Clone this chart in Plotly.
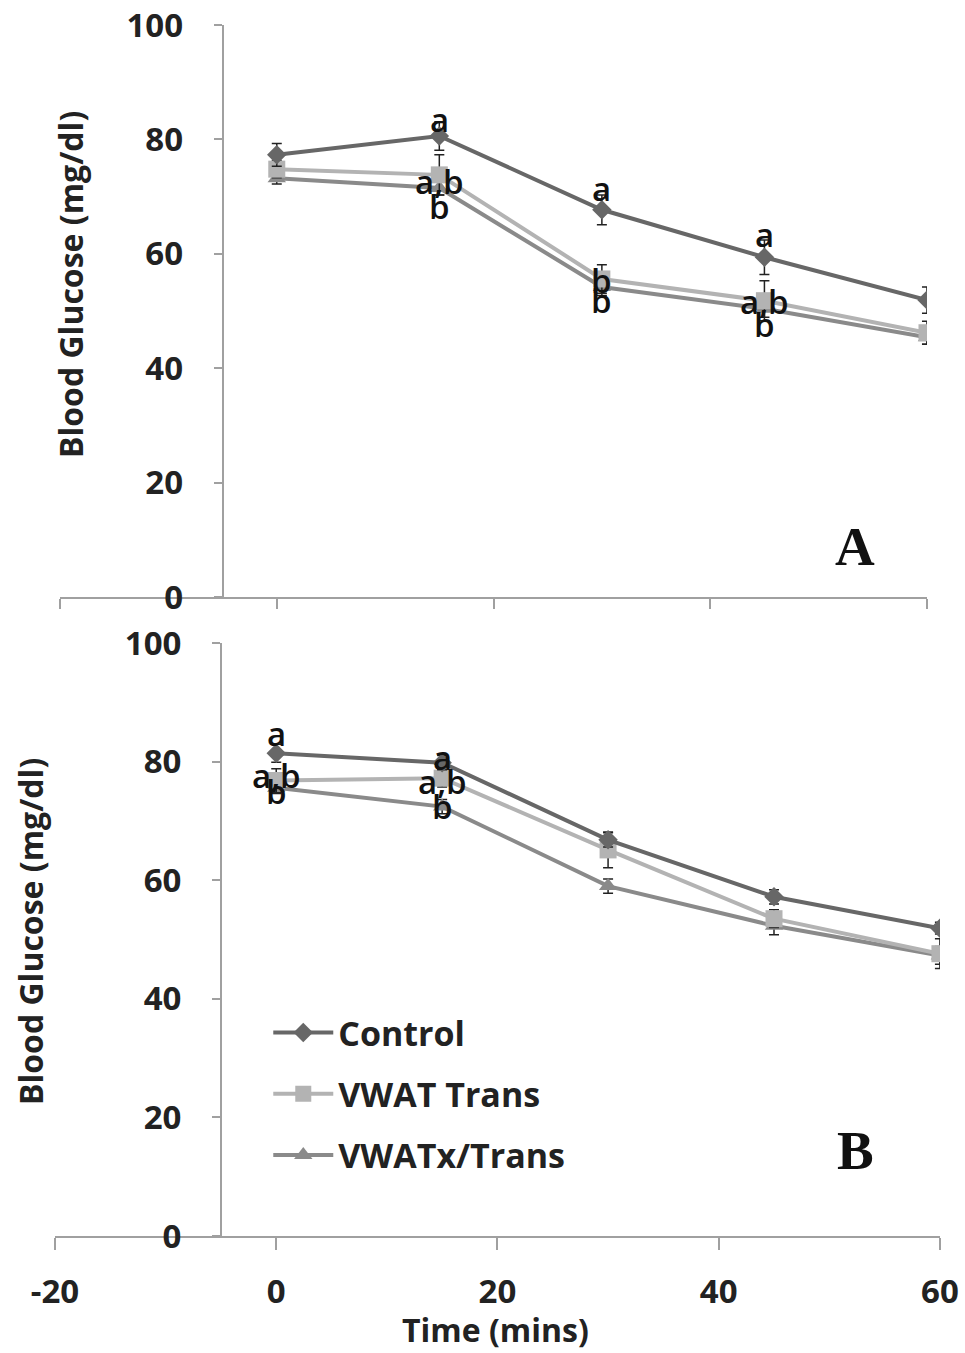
import plotly.graph_objects as go

time = [0, 15, 30, 45, 60]
series_names = ["Control", "VWAT Trans", "VWATx/Trans"]

# Panel A
a_control = [77.3, 80.6, 67.7, 59.4, 51.9]
a_vwat = [74.8, 73.8, 55.6, 51.8, 46.2]
a_vwatx = [73.2, 71.5, 54.2, 50.4, 45.4]
a_control_err = [2.0, 2.5, 2.6, 3.0, 2.3]
a_vwat_err = [1.5, 3.5, 2.5, 3.5, 2.0]
a_vwatx_err = [1.0, 1.2, 1.5, 1.5, 1.2]

# Panel B
b_control = [81.4, 79.8, 66.8, 57.2, 51.9]
b_vwat = [76.8, 77.2, 65.1, 53.5, 47.6]
b_vwatx = [75.6, 72.4, 59.0, 52.3, 47.3]
b_control_err = [1.5, 1.2, 1.2, 1.2, 1.0]
b_vwat_err = [2.0, 1.5, 3.0, 1.5, 2.5]
b_vwatx_err = [1.0, 1.2, 1.2, 1.5, 1.5]

# significance letters: (x, y, text)
letters_a = [
    (15, 83.4, "a"), (15, 72.7, "a,b"), (15, 68.2, "b"),
    (30, 71.5, "a"), (30, 55.4, "b"), (30, 51.9, "b"),
    (45, 63.3, "a"), (45, 51.6, "a,b"), (45, 47.6, "b"),
]
letters_b = [
    (0, 84.8, "a"), (0, 77.7, "a,b"), (0, 74.9, "b"),
    (15, 80.6, "a"), (15, 76.6, "a,b"), (15, 72.5, "b"),
]

y_ticks = [0, 20, 40, 60, 80, 100]
x_ticks = [-20, 0, 20, 40, 60]
x_ticktext = ["-20", "0", "20", "40", "60"]

colors = ["#676767", "#b3b3b3", "#8a8a8a"]
symbols = ["diamond", "square", "triangle-up"]
sizes = [15, 17, 16]

FONT = "Open Sans"

fig = go.Figure()

panels = [
    ("x", "y", [a_control, a_vwat, a_vwatx], [a_control_err, a_vwat_err, a_vwatx_err], False),
    ("x2", "y2", [b_control, b_vwat, b_vwatx], [b_control_err, b_vwat_err, b_vwatx_err], True),
]

for xa, ya, vals, errs, show in panels:
    for i in [2, 1, 0]:
        fig.add_trace(go.Scatter(
            x=time, y=vals[i], xaxis=xa, yaxis=ya,
            mode="lines+markers", name=series_names[i],
            legendgroup=series_names[i], legendrank=i,
            showlegend=show,
            line=dict(color=colors[i], width=4),
            marker=dict(symbol=symbols[i], size=sizes[i], color=colors[i]),
            error_y=dict(type="data", array=errs[i], visible=True,
                         color="#222222", thickness=1.5, width=5),
        ))

letter_font = dict(family=FONT, size=33, color="#111111", weight=600)
annotations = []
for x, y, t in letters_a:
    annotations.append(dict(x=x, y=y, xref="x", yref="y", text=t, showarrow=False,
                            xanchor="center", yanchor="middle", font=letter_font))
for x, y, t in letters_b:
    annotations.append(dict(x=x, y=y, xref="x2", yref="y2", text=t, showarrow=False,
                            xanchor="center", yanchor="middle", font=letter_font))

title_font = dict(family=FONT, size=32, color="#222222", weight="bold")
panel_font = dict(family="Liberation Serif", size=55, color="#111111", weight="bold")
annotations += [
    dict(x=70 / 965, y=1 - 285 / 1353, xref="paper", yref="paper", text="Blood Glucose (mg/dl)",
         textangle=-90, showarrow=False, xanchor="center", yanchor="middle", font=title_font),
    dict(x=30 / 965, y=1 - 932 / 1353, xref="paper", yref="paper", text="Blood Glucose (mg/dl)",
         textangle=-90, showarrow=False, xanchor="center", yanchor="middle", font=title_font),
    dict(x=495 / 965, y=1 - 1329 / 1353, xref="paper", yref="paper", text="Time (mins)",
         showarrow=False, xanchor="center", yanchor="middle", font=title_font),
    dict(x=855 / 965, y=1 - 546 / 1353, xref="paper", yref="paper", text="A", showarrow=False,
         xanchor="center", yanchor="middle", font=panel_font),
    dict(x=855 / 965, y=1 - 1150 / 1353, xref="paper", yref="paper", text="B", showarrow=False,
         xanchor="center", yanchor="middle", font=panel_font),
]

tick_font = dict(family=FONT, size=33, color="#222222", weight="bold")
axis_common = dict(showgrid=False, zeroline=False, showline=True, linecolor="#a0a0a0",
                   linewidth=2, ticks="outside", tickcolor="#a0a0a0", tickwidth=2,
                   automargin=False)

fig.update_layout(
    width=965, height=1353,
    margin=dict(l=0, r=0, t=0, b=0, autoexpand=False),
    paper_bgcolor="white", plot_bgcolor="white",
    showlegend=True,
    legend=dict(x=0.278, y=1 - 1004 / 1353, xanchor="left", yanchor="top",
                traceorder="grouped", tracegroupgap=14,
                font=dict(family=FONT, size=34, color="#222222", weight="bold"),
                bgcolor="rgba(0,0,0,0)", itemwidth=60),
    annotations=annotations,
    xaxis=dict(domain=[0.0622, 0.9606], range=[-20, 60], tickvals=x_ticks,
               showticklabels=False, ticklen=10, anchor="y", **axis_common),
    yaxis=dict(domain=[0.5588, 0.9815], range=[0, 100], tickvals=y_ticks,
               anchor="free", position=0.2307, ticklen=8, ticklabelstandoff=24,
               tickfont=tick_font, **axis_common),
    xaxis2=dict(domain=[0.057, 0.974], range=[-20, 60], tickvals=x_ticks,
                ticktext=x_ticktext,
                ticklen=12, ticklabelstandoff=13, tickfont=tick_font, anchor="y2",
                **axis_common),
    yaxis2=dict(domain=[0.0865, 0.5248], range=[0, 100], tickvals=y_ticks,
                anchor="free", position=0.229, ticklen=8, ticklabelstandoff=24,
                tickfont=tick_font, **axis_common),
)

fig.write_html("out.html", config={"displayModeBar": False},
               post_script="document.body.style.margin='0';")
